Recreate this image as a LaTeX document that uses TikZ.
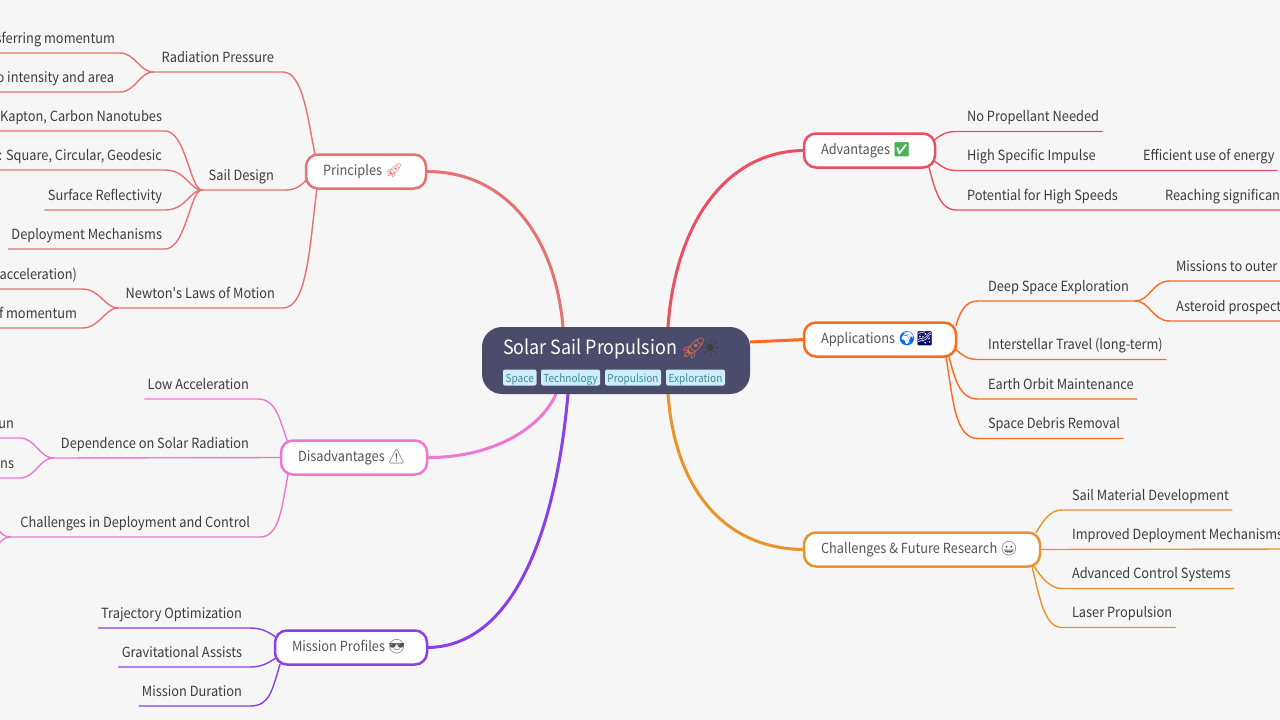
\documentclass[tikz,border=0pt]{standalone}
\usepackage{fontspec}
\setmainfont[FakeStretch=0.915]{Noto Sans CJK SC}
\newfontfamily\plainf[FakeStretch=0.915]{Noto Sans CJK SC}
\newfontfamily\emo{Noto Emoji}
\newfontfamily\djv{DejaVu Sans}
\usetikzlibrary{backgrounds}
\definecolor{bgc}{HTML}{F6F6F6}
\definecolor{cen}{HTML}{4B4B6B}
\definecolor{tagf}{HTML}{CDEEF8}
\definecolor{tagt}{HTML}{3F8CA3}
\definecolor{txt}{HTML}{3C3C3C}
\definecolor{mtxt}{HTML}{555555}
\definecolor{cA}{HTML}{E57373}
\definecolor{cB}{HTML}{EC4F62}
\definecolor{cC}{HTML}{FF6A1F}
\definecolor{cD}{HTML}{E5952B}
\definecolor{cE}{HTML}{EE77D3}
\definecolor{cF}{HTML}{8A3FEA}
\definecolor{ckg}{HTML}{4CAF50}
\definecolor{rkt}{HTML}{D86A5A}
\newcommand{\emj}[2]{{\color{#1}\emo #2}}
\tikzset{
  x=1pt,y=-1pt,
  leaf/.style={font=\fontsize{14}{16}\selectfont,text=txt,inner xsep=3pt,inner ysep=0pt,text height=11pt,text depth=9.8pt,outer sep=0pt},
  leafL/.style={leaf,anchor=south east},
  leafR/.style={leaf,anchor=south west},
  mainn/.style={draw=#1,fill=white,line width=2.5pt,rounded corners=12pt,font=\fontsize{14}{16}\selectfont,text=mtxt,anchor=north west,outer sep=0pt,inner xsep=17pt,inner ysep=0pt,minimum height=34pt,text height=11pt,text depth=4pt},
  tagn/.style={fill=tagf,rounded corners=2pt,font=\fontsize{11}{13}\selectfont,text=tagt,inner sep=0pt,minimum height=16pt,anchor=north west,text height=10pt,text depth=0pt,outer sep=0pt},
  trunk/.style={draw=#1,line width=3pt},
  twig/.style={draw=#1,line width=1.4pt,line cap=round},
}
\newcommand{\mb}[2]{\makebox[#1][l]{#2}}
\begin{document}
\begin{tikzpicture}
\useasboundingbox (0,0) rectangle (1280,720);
% centre
\node[fill=cen,rounded corners=20pt,minimum width=268pt,minimum height=67pt,inner sep=0pt,outer sep=0pt,anchor=north west] (center) at (482,327) {};
\node[font=\fontsize{19.6}{24}\selectfont,text=white,inner sep=0pt,anchor=base west] (title) at (503,354.5) {Solar Sail Propulsion};
\node[inner sep=0pt,anchor=base west] (rocket) at (680,355) {\fontsize{21}{24}\selectfont\emj{rkt}{🚀}};
\node[inner sep=0pt,anchor=base west] (sun) at (700,356) {\fontsize{23}{24}\selectfont{\color{black!75}\djv ☀}};
\node[tagn,minimum width=33.5pt] (t1) at (503,369.5) {Space};
\node[tagn,minimum width=59pt] (t2) at (541,369.5) {Technology};
\node[tagn,minimum width=56pt] (t3) at (605,369.5) {Propulsion};
\node[tagn,minimum width=59pt] (t4) at (666,369.5) {Exploration};
% main nodes
\node[mainn=cA] (prin) at (306,154.5) {\mb{86pt}{Principles \emj{cA}{🚀}}};
\node[mainn=cB] (adv) at (804,133.5) {\mb{97pt}{Advantages \emj{ckg}{✅}}};
\node[mainn=cC] (app) at (804,322.5) {\mb{118pt}{Applications \emj{blue!60!cyan}{🌍}\emj{blue!40!black}{🌌}}};
\node[mainn=cD] (chal) at (804,532.5) {\mb{202pt}{Challenges \& Future Research \emj{mtxt}{😀}}};
\node[mainn=cE] (dis) at (281,440.5) {\mb{112pt}{Disadvantages \emj{mtxt}{⚠}}};
\node[mainn=cF] (mis) at (275,630.5) {\mb{118pt}{Mission Profiles \emj{mtxt}{😎}}};
% left leaves
\node[leafL] (rp) at (277,72) {Radiation Pressure};
\node[leafL] (rp1) at (118,53) {sferring momentum};
\node[leafL] (rp2) at (117,92) {o intensity and area};
\node[leafL] (sd) at (277,190) {Sail Design};
\node[leafL] (sd1) at (165,131) {Kapton, Carbon Nanotubes};
\node[leafL] (sd2) at (165,170) {: Square, Circular, Geodesic};
\node[leafL] (sd3) at (165,210) {Surface Reflectivity};
\node[leafL] (sd4) at (165,249) {Deployment Mechanisms};
\node[leafL] (nl) at (278,308) {Newton{\plainf '}s Laws of Motion};
\node[leafL] (nl1) at (80,289) {(acceleration)};
\node[leafL] (nl2) at (80,328) {f momentum};
\node[leafL] (la) at (252,399) {Low Acceleration};
\node[leafL] (dr) at (252,458) {Dependence on Solar Radiation};
\node[leafL] (dr1) at (17,438) {un};
\node[leafL] (dr2) at (17,478) {ns};
\node[leafL] (cd) at (253,537) {Challenges in Deployment and Control};
\node[leafL] (to) at (245,628) {Trajectory Optimization};
\node[leafL] (ga) at (245,667) {Gravitational Assists};
\node[leafL] (md) at (245,706) {Mission Duration};
% right leaves
\node[leafR] (np) at (964,131.5) {No Propellant Needed};
\node[leafR] (hs) at (964,170.5) {High Specific Impulse};
\node[leafR] (hs1) at (1140,170.5) {Efficient use of energy};
\node[leafR] (ph) at (964,210) {Potential for High Speeds};
\node[leafR] (ph1) at (1162,210) {Reaching significan};
\node[leafR] (ds) at (985,301) {Deep Space Exploration};
\node[leafR] (ds1) at (1173,281) {Missions to outer};
\node[leafR] (ds2) at (1173,321) {Asteroid prospect};
\node[leafR] (it) at (985,359.5) {Interstellar Travel (long-term)};
\node[leafR] (eo) at (985,399) {Earth Orbit Maintenance};
\node[leafR] (sr) at (985,438.5) {Space Debris Removal};
\node[leafR] (sm) at (1069,510) {Sail Material Development};
\node[leafR] (id) at (1069,549) {Improved Deployment Mechanisms};
\node[leafR] (ac) at (1069,588.5) {Advanced Control Systems};
\node[leafR] (lp) at (1069,627.5) {Laser Propulsion};
% fork points and free ends
\coordinate (frp) at (153,72);
\coordinate (fsd) at (202,190);
\coordinate (fnl) at (118,308);
\coordinate (fdr) at (53,458);
\coordinate (fcd) at (10,537);
\coordinate (fds) at (1135,301);
\coordinate (cd1) at (-12,518);
\coordinate (cd2) at (-12,557);
\coordinate (ph2) at (1290,210);
\coordinate (hs2) at (1277,170.5);
\coordinate (ds1e) at (1290,281);
\coordinate (ds2e) at (1290,321);
\coordinate (ide) at (1290,549);
\begin{pgfonlayer}{background}
\fill[bgc] (0,0) rectangle (1280,720);
% trunks
\draw[trunk=cA] ([xshift=-53pt]center.north) .. controls (555,235) and (505,171) .. (prin.east);
\draw[trunk=cB] ([xshift=52pt]center.north) .. controls (675,225) and (725,151) .. (adv.west);
\draw[trunk=cC] ([yshift=18.5pt]center.east) -- (app.west);
\draw[trunk=cD] ([xshift=52pt]center.south) .. controls (675,490) and (725,549) .. (chal.west);
\draw[trunk=cE] ([xshift=-60pt]center.south) .. controls (540,430) and (490,458) .. (dis.east);
\draw[trunk=cF] ([xshift=-48pt]center.south) .. controls (555,540) and (510,647) .. (mis.east);
% Principles
\draw[twig=cA] ([xshift=9pt]prin.north west) .. controls (308,120) and (303,72) .. (283,72) -- (frp);
\draw[twig=cA] (frp) .. controls (140,72) and (135,53) .. (120,53) -- (rp1.south west);
\draw[twig=cA] (frp) .. controls (140,72) and (135,92) .. (120,92) -- (rp2.south west);
\draw[twig=cA] ([yshift=-26pt]prin.north west) .. controls (298,188) and (294,190) .. (285,190) -- (fsd);
\draw[twig=cA] (fsd) .. controls (190,190) and (186,131) .. (165,131) -- (sd1.south west);
\draw[twig=cA] (fsd) .. controls (190,190) and (186,170) .. (165,170) -- (sd2.south west);
\draw[twig=cA] (fsd) .. controls (190,190) and (186,210) .. (165,210) -- (sd3.south west);
\draw[twig=cA] (fsd) .. controls (190,190) and (186,249) .. (165,249) -- (sd4.south west);
\draw[twig=cA] ([xshift=11pt]prin.south west) .. controls (310,240) and (308,308) .. (283,308) -- (fnl);
\draw[twig=cA] (fnl) .. controls (105,308) and (100,289) .. (82,289) -- (nl1.south west);
\draw[twig=cA] (fnl) .. controls (105,308) and (100,328) .. (82,328) -- (nl2.south west);
% Disadvantages
\draw[twig=cE] ([xshift=6pt]dis.north west) .. controls (280,420) and (276,399) .. (258,399) -- (la.south west);
\draw[twig=cE] (dis.west) -- (fdr);
\draw[twig=cE] (fdr) .. controls (40,458) and (35,438) .. (20,438) -- (dr1.south west);
\draw[twig=cE] (fdr) .. controls (40,458) and (35,478) .. (20,478) -- (dr2.south west);
\draw[twig=cE] ([xshift=7pt]dis.south west) .. controls (282,505) and (280,537) .. (260,537) -- (fcd);
\draw[twig=cE] (fcd) .. controls (0,537) and (-3,525) .. (cd1);
\draw[twig=cE] (fcd) .. controls (0,537) and (-3,549) .. (cd2);
% Mission Profiles
\draw[twig=cF] ([yshift=-6pt]mis.north west) .. controls (268,632) and (262,628) .. (250,628) -- (to.south west);
\draw[twig=cF] ([yshift=6pt]mis.south west) .. controls (268,663) and (262,667) .. (250,667) -- (ga.south west);
\draw[twig=cF] ([xshift=5pt]mis.south west) .. controls (272,690) and (270,706) .. (250,706) -- (md.south west);
% Advantages
\draw[twig=cB] ([yshift=-6pt]adv.north east) .. controls (942,134) and (947,131.5) .. (956,131.5) -- (np.south east);
\draw[twig=cB] ([yshift=6pt]adv.south east) .. controls (942,167) and (947,170.5) .. (956,170.5) -- (hs2);
\draw[twig=cB] ([xshift=-6pt]adv.south east) .. controls (935,190) and (940,210) .. (956,210) -- (ph2);
% Applications
\draw[twig=cC] ([yshift=-3pt]app.north east) .. controls (960,312) and (965,301) .. (978,301) -- (fds);
\draw[twig=cC] (fds) .. controls (1150,301) and (1152,281) .. (1170,281) -- (ds1e);
\draw[twig=cC] (fds) .. controls (1150,301) and (1152,321) .. (1170,321) -- (ds2e);
\draw[twig=cC] ([yshift=7pt]app.south east) .. controls (962,355) and (967,359.5) .. (978,359.5) -- (it.south east);
\draw[twig=cC] ([xshift=-7pt]app.south east) .. controls (955,380) and (960,399) .. (978,399) -- (eo.south east);
\draw[twig=cC] ([xshift=-10pt]app.south east) .. controls (953,400) and (955,438.5) .. (978,438.5) -- (sr.south east);
% Challenges
\draw[twig=cD] ([xshift=-4pt]chal.north east) .. controls (1044,520) and (1050,510) .. (1062,510) -- (sm.south east);
\draw[twig=cD] (chal.east) -- (ide);
\draw[twig=cD] ([xshift=-6pt]chal.south east) .. controls (1042,578) and (1050,588.5) .. (1062,588.5) -- (ac.south east);
\draw[twig=cD] ([xshift=-8pt]chal.south east) .. controls (1040,600) and (1045,627.5) .. (1062,627.5) -- (lp.south east);
\end{pgfonlayer}
\end{tikzpicture}
\end{document}
